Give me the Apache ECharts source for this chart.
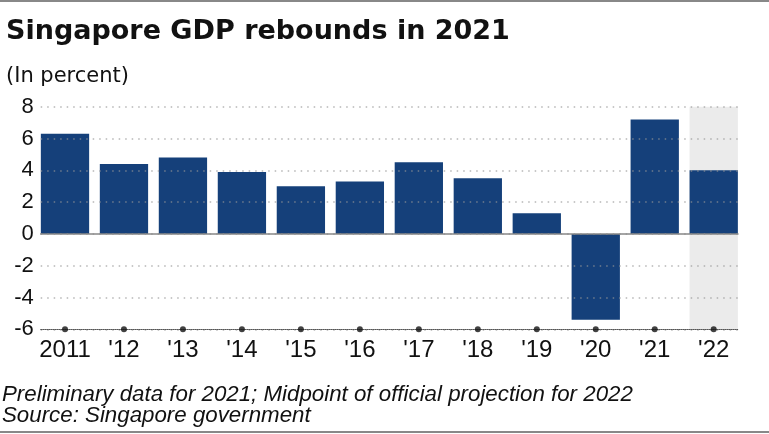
<!DOCTYPE html>
<html>
<head>
<meta charset="utf-8">
<script src="https://cdn.jsdelivr.net/npm/echarts@6/dist/echarts.min.js"></script>
<style>html,body{margin:0;padding:0;background:#fff;}#c{width:769px;height:434px;}</style>
</head>
<body>
<div id="c"></div>
<script>
const categories = ['2011', "'12", "'13", "'14", "'15", "'16", "'17", "'18", "'19", "'20", "'21", "'22"];
const gdpGrowth = [6.3, 4.4, 4.8, 3.9, 3.0, 3.3, 4.5, 3.5, 1.3, -5.4, 7.2, 4.0];
const projectionBandTop = [null, null, null, null, null, null, null, null, null, null, null, 8];
const projectionBandBottom = [null, null, null, null, null, null, null, null, null, null, null, -6];
const tickDots = [-6, -6, -6, -6, -6, -6, -6, -6, -6, -6, -6, -6];
const yMin = -6, yMax = 8, yStep = 2;

const chart = echarts.init(document.getElementById('c'), null, {renderer: 'canvas'});
const gridTop = 106.7, gridBottom = 434 - 329.3;
const option = {
  animation: false,
  backgroundColor: '#fff',
  title: [
    {text: 'Singapore GDP rebounds in 2021', left: 6, top: 18, padding: 0,
     textStyle: {fontFamily: 'DejaVu Sans', fontWeight: 'bold', fontSize: 27, color: '#111'}},
    {text: '(In percent)', left: 6, top: 66, padding: 0,
     textStyle: {fontFamily: 'DejaVu Sans', fontWeight: 'normal', fontSize: 21, color: '#111'}},
    {text: 'Preliminary data for 2021; Midpoint of official projection for 2022', left: 2, top: 384, padding: 0,
     textStyle: {fontFamily: 'Liberation Sans', fontStyle: 'italic', fontWeight: 'normal', fontSize: 22.3, color: '#111'}},
    {text: 'Source: Singapore government', left: 2, top: 405, padding: 0,
     textStyle: {fontFamily: 'Liberation Sans', fontStyle: 'italic', fontWeight: 'normal', fontSize: 22.3, color: '#111'}}
  ],
  graphic: [
    {type: 'rect', shape: {x: 0, y: 0, width: 769, height: 2}, style: {fill: '#888'}},
    {type: 'rect', shape: {x: 0, y: 431, width: 769, height: 2}, style: {fill: '#888'}}
  ],
  grid: [
    {left: 35.5, right: 25.8, top: gridTop, bottom: gridBottom},
    {left: 40.7, right: 31, top: gridTop, bottom: gridBottom}
  ],
  xAxis: [
    {type: 'category', gridIndex: 0, data: categories,
     axisLine: {show: false}, axisTick: {show: false}, splitLine: {show: false},
     axisLabel: {interval: 0, margin: 9, fontFamily: 'Liberation Sans', fontSize: 24, color: '#111'}},
    {type: 'value', gridIndex: 1, min: 0, max: 1, position: 'bottom', z: 5,
     axisLine: {show: true, onZero: false, lineStyle: {color: '#555', width: 1, type: 'dotted'}},
     axisTick: {show: false}, axisLabel: {show: false}, splitLine: {show: false}},
    {type: 'value', gridIndex: 1, min: 0, max: 1, position: 'top', z: 5,
     axisLine: {show: true, onZero: true, lineStyle: {color: '#888', width: 1.5}},
     axisTick: {show: false}, axisLabel: {show: false}, splitLine: {show: false}}
  ],
  yAxis: [
    {type: 'value', gridIndex: 0, min: yMin, max: yMax, interval: yStep, show: false},
    {type: 'value', gridIndex: 1, min: yMin, max: yMax, interval: yStep, z: 4,
     axisLine: {show: false}, axisTick: {show: false},
     axisLabel: {margin: 7, fontFamily: 'Liberation Sans', fontSize: 22, color: '#111'},
     splitLine: {show: true, lineStyle: {color: 'rgba(150,150,150,0.7)', width: 1.5, type: [1.5, 5]}}}
  ],
  series: [
    {type: 'bar', xAxisIndex: 0, yAxisIndex: 0, data: projectionBandTop, barWidth: 48.3, barGap: '-100%',
     itemStyle: {color: '#ebebeb'}, silent: true, z: 1},
    {type: 'bar', xAxisIndex: 0, yAxisIndex: 0, data: projectionBandBottom, barWidth: 48.3, barGap: '-100%',
     itemStyle: {color: '#ebebeb'}, silent: true, z: 1},
    {type: 'bar', xAxisIndex: 0, yAxisIndex: 0, data: gdpGrowth, barWidth: 48.3, barGap: '-100%',
     itemStyle: {color: '#15407a'}, z: 2},
    {type: 'scatter', xAxisIndex: 0, yAxisIndex: 0, data: tickDots, symbol: 'circle', symbolSize: 6,
     itemStyle: {color: '#111'}, z: 6}
  ]
};
chart.setOption(option);
</script>
</body>
</html>
